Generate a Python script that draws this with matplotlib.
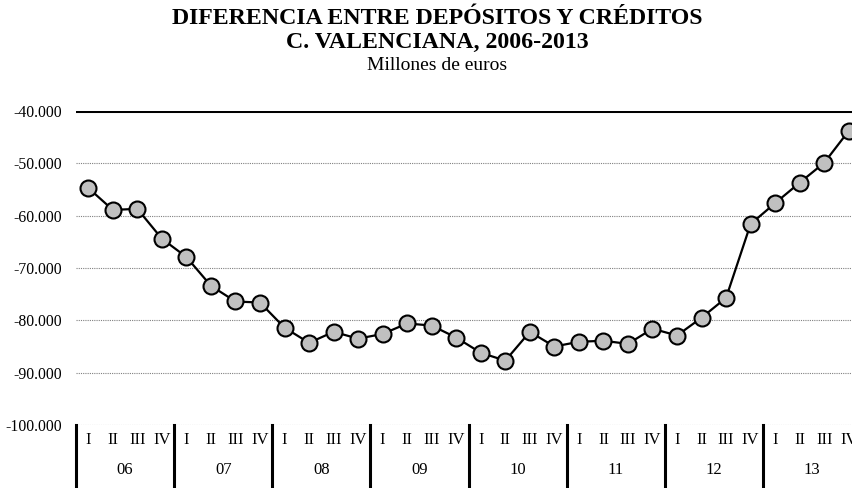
import matplotlib
matplotlib.use("Agg")
import matplotlib.pyplot as plt
from matplotlib.ticker import FuncFormatter

plt.rcParams['font.family'] = ['Liberation Serif', 'DejaVu Serif']

years = ["06", "07", "08", "09", "10", "11", "12", "13"]
quarters = ["I", "II", "III", "IV"]
values = [
    -54700, -58900, -58700, -64400,
    -67900, -73400, -76400, -76600,
    -81400, -84300, -82200, -83500,
    -82600, -80600, -81000, -83300,
    -86200, -87700, -82200, -85000,
    -84100, -83900, -84500, -81600,
    -82900, -79500, -75700, -61600,
    -57600, -53700, -49900, -43800,
]
yticks = [-100000, -90000, -80000, -70000, -60000, -50000, -40000]

fig = plt.figure(figsize=(8.53, 4.88), dpi=100)
ax = fig.add_axes([76/853, (488-425)/488, 785/853, 314/488])

x = list(range(len(values)))
ax.plot(x, values, color='black', lw=1.6, marker='o', markersize=11.5,
        markerfacecolor='#C0C0C0', markeredgecolor='black', markeredgewidth=1.5,
        zorder=5, clip_on=False)

ax.set_xlim(-0.5, len(values) - 0.5)
ax.set_ylim(-100000, -40000)
ax.set_yticks(yticks)
ax.yaxis.set_major_formatter(FuncFormatter(lambda v, p: f"{int(v):,}".replace(",", ".")))
ax.tick_params(axis='y', length=0, pad=10, labelsize=11.3)
ax.set_xticks([])

for s in ax.spines.values():
    s.set_visible(False)

for t in yticks:
    if t == -40000:
        ax.axhline(t, color='black', lw=2.2, zorder=3)
    else:
        ax.axhline(t, color='#808080', lw=0.8, ls=(0, (1, 1)), zorder=2)

xt = ax.get_xaxis_transform()
for g in range(len(years) + 1):
    xv = g * 4 - 0.5
    ax.plot([xv, xv], [0, -0.25], color='black', lw=2.2, transform=xt, clip_on=False)

for g, yr in enumerate(years):
    for q, ql in enumerate(quarters):
        ax.text(g * 4 + q, -0.048, ql, transform=xt, ha='center', va='center', fontsize=12)
    ax.text(g * 4 + 1.5, -0.143, yr, transform=xt, ha='center', va='center', fontsize=12)

fig.text(437/853, 1 - 18/488, "DIFERENCIA ENTRE DEPÓSITOS Y CRÉDITOS", ha='center', va='center',
         fontsize=17.2, fontweight='bold')
fig.text(437/853, 1 - 42/488, "C. VALENCIANA, 2006-2013", ha='center', va='center',
         fontsize=17.2, fontweight='bold')
fig.text(437/853, 1 - 65/488, "Millones de euros", ha='center', va='center', fontsize=14)

fig.savefig("out.png", dpi=100)
